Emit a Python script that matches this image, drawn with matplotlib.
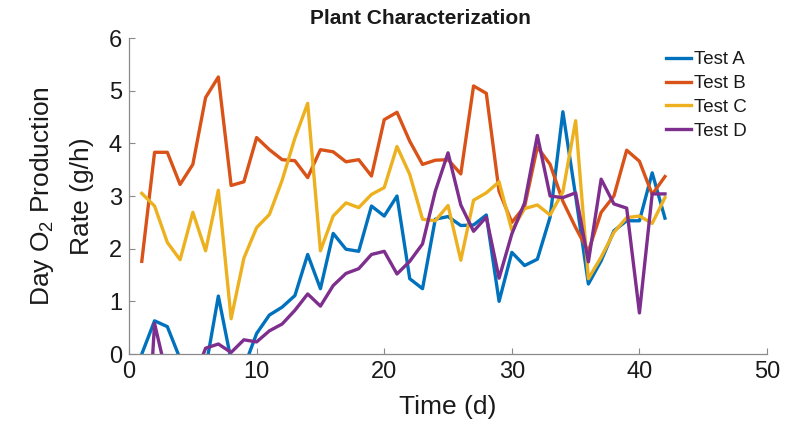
import matplotlib

matplotlib.use("Agg")
import matplotlib.pyplot as plt
import numpy as np

plt.rcParams["font.family"] = ["Liberation Sans", "DejaVu Sans"]
plt.rcParams["mathtext.fontset"] = "custom"
plt.rcParams["mathtext.rm"] = "Liberation Sans"
plt.rcParams["mathtext.it"] = "Liberation Sans"

# daily O2 production rate per test, g/h
days = np.arange(1, 43)

test_a = [0.0, 0.63, 0.52, -0.09, -0.4, -0.28, 1.1, -0.12, -0.26, 0.39,
          0.74, 0.89, 1.11, 1.89, 1.24, 2.29, 1.99, 1.95, 2.81, 2.62,
          3.0, 1.43, 1.24, 2.56, 2.61, 2.44, 2.45, 2.64, 1.0, 1.93,
          1.68, 1.8, 2.6, 4.6, 3.0, 1.33, 1.77, 2.34, 2.53, 2.53,
          3.44, 2.58]
test_b = [1.76, 3.83, 3.83, 3.22, 3.6, 4.87, 5.26, 3.2, 3.27, 4.11,
          3.88, 3.69, 3.67, 3.35, 3.88, 3.84, 3.65, 3.69, 3.38, 4.45,
          4.59, 4.04, 3.6, 3.68, 3.69, 3.42, 5.09, 4.95, 3.09, 2.5,
          2.8, 3.93, 3.6, 2.9, 2.4, 1.95, 2.69, 3.0, 3.87, 3.66,
          3.03, 3.37]
test_c = [3.05, 2.81, 2.12, 1.79, 2.69, 1.96, 3.11, 0.67, 1.82, 2.4,
          2.65, 3.3, 4.1, 4.76, 1.96, 2.62, 2.87, 2.78, 3.03, 3.16,
          3.94, 3.41, 2.56, 2.53, 2.82, 1.78, 2.92, 3.06, 3.27, 2.35,
          2.76, 2.83, 2.64, 3.08, 4.43, 1.43, 1.84, 2.31, 2.59, 2.62,
          2.48, 2.97]
test_d = [-3.5, 0.58, -0.46, -0.8, -0.53, 0.11, 0.19, 0.03, 0.27, 0.23,
          0.44, 0.57, 0.83, 1.14, 0.91, 1.3, 1.53, 1.62, 1.89, 1.95,
          1.52, 1.76, 2.09, 3.09, 3.82, 2.83, 2.33, 2.6, 1.44, 2.28,
          2.87, 4.15, 3.0, 2.97, 3.06, 1.75, 3.32, 2.85, 2.77, 0.78,
          3.04, 3.04]

labels = ["Test A", "Test B", "Test C", "Test D"]
colors = ["#0072BD", "#D95319", "#EDB120", "#7E2F8E"]
series = [test_a, test_b, test_c, test_d]

text_color = "#1a1a1a"
axis_color = "#8a8a8a"

fig = plt.figure(figsize=(7.97, 4.23), dpi=100)
ax = fig.add_axes([0.1619, 0.1631, 0.8005, 0.747])

for values, label, color in zip(series, labels, colors):
    ax.plot(days, values, color=color, lw=2.4, label=label)

ax.set_xlim(0, 50)
ax.set_ylim(0, 6)
ax.set_xticks(np.arange(0, 51, 10))
ax.set_yticks(np.arange(0, 7, 1))

for side in ["top", "right"]:
    ax.spines[side].set_visible(False)
for side in ["left", "bottom"]:
    ax.spines[side].set_color(axis_color)
    ax.spines[side].set_linewidth(0.9)

ax.tick_params(direction="in", length=4.5, width=0.8, color=axis_color,
               labelsize=17, labelcolor=text_color, pad=5)

ax.set_xlabel("Time (d)", fontsize=19, color=text_color)
ax.xaxis.set_label_coords(0.5, -0.13)
ax.set_ylabel("Day O$_2$ Production\nRate (g/h)", fontsize=19,
              color=text_color, linespacing=1.75)
ax.yaxis.set_label_coords(-0.055, 0.5)

fig.text(0.528, 0.957, "Plant Characterization", ha="center", va="center",
         fontsize=15, fontweight="bold", color=text_color)

ax.legend(loc="upper left", bbox_to_anchor=(0.836, 0.879),
          bbox_transform=fig.transFigure, frameon=False, fontsize=13.5,
          handlelength=1.3, handletextpad=0.2, labelspacing=0.36,
          borderpad=0, borderaxespad=0, labelcolor=text_color)

fig.savefig("out.png", dpi=100)
